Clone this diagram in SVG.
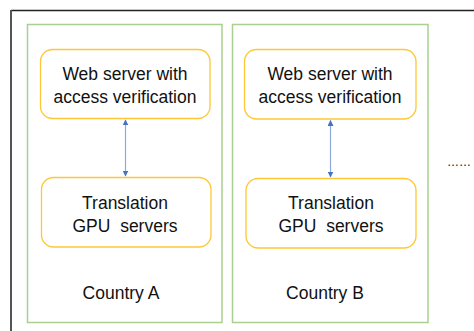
<svg xmlns="http://www.w3.org/2000/svg" width="474" height="331" viewBox="0 0 474 331">
<style>
.frame{fill:none;stroke:#222;stroke-width:1.5}
.left{fill:none;stroke:#555;stroke-width:2}
.country{fill:#fff;stroke:#A9D08E;stroke-width:1.5}
.srv{fill:#fff;stroke:#FFC735;stroke-width:1.3}
.t{font-family:"Liberation Sans",Arial,sans-serif;font-size:17.5px;fill:#111;text-anchor:middle;white-space:pre}
.link{stroke:#8EA9DB;stroke-width:1.2;fill:none;marker-start:url(#ah);marker-end:url(#ah)}
</style>
<defs>
<marker id="ah" viewBox="0 0 10 10" refX="9" refY="5" markerWidth="6" markerHeight="6" orient="auto-start-reverse" markerUnits="userSpaceOnUse">
<path d="M0,0 L10,5 L0,10 z" fill="#4472C4"/>
</marker>
</defs>
<rect width="474" height="331" fill="#fff"/>
<g id="outer">
<path class="frame" d="M11,10.5 H474"/>
<path class="left" d="M11,10 V331"/>
</g>
<g id="countryA">
<rect class="country" x="27.5" y="24.5" width="194.5" height="298"/>
<text class="t" x="121" y="299">Country A</text>
</g>
<g id="countryB">
<rect class="country" x="232.5" y="24.5" width="195.5" height="298"/>
<text class="t" x="325" y="299">Country B</text>
</g>
<g id="webA">
<rect class="srv" x="40.5" y="49.5" width="169.5" height="69" rx="12"/>
<text class="t" x="125" y="80">Web server with</text>
<text class="t" x="125" y="103">access verification</text>
</g>
<g id="gpuA">
<rect class="srv" x="41.5" y="177.5" width="169.5" height="69.5" rx="12"/>
<text class="t" x="125" y="209">Translation</text>
<text class="t" x="125" y="232" xml:space="preserve">GPU  servers</text>
</g>
<g id="webB">
<rect class="srv" x="244.5" y="49.5" width="171.5" height="69.5" rx="12"/>
<text class="t" x="330" y="80">Web server with</text>
<text class="t" x="330" y="103">access verification</text>
</g>
<g id="gpuB">
<rect class="srv" x="246" y="178.5" width="170" height="69.5" rx="12"/>
<text class="t" x="331" y="209">Translation</text>
<text class="t" x="331" y="232" xml:space="preserve">GPU  servers</text>
</g>
<g id="connectors">
<line class="link" x1="125.5" y1="120" x2="125.5" y2="176"/>
<line class="link" x1="330.5" y1="120.5" x2="330.5" y2="177"/>
</g>
<text x="459" y="166" class="t" style="font-size:12px">……</text>
</svg>
